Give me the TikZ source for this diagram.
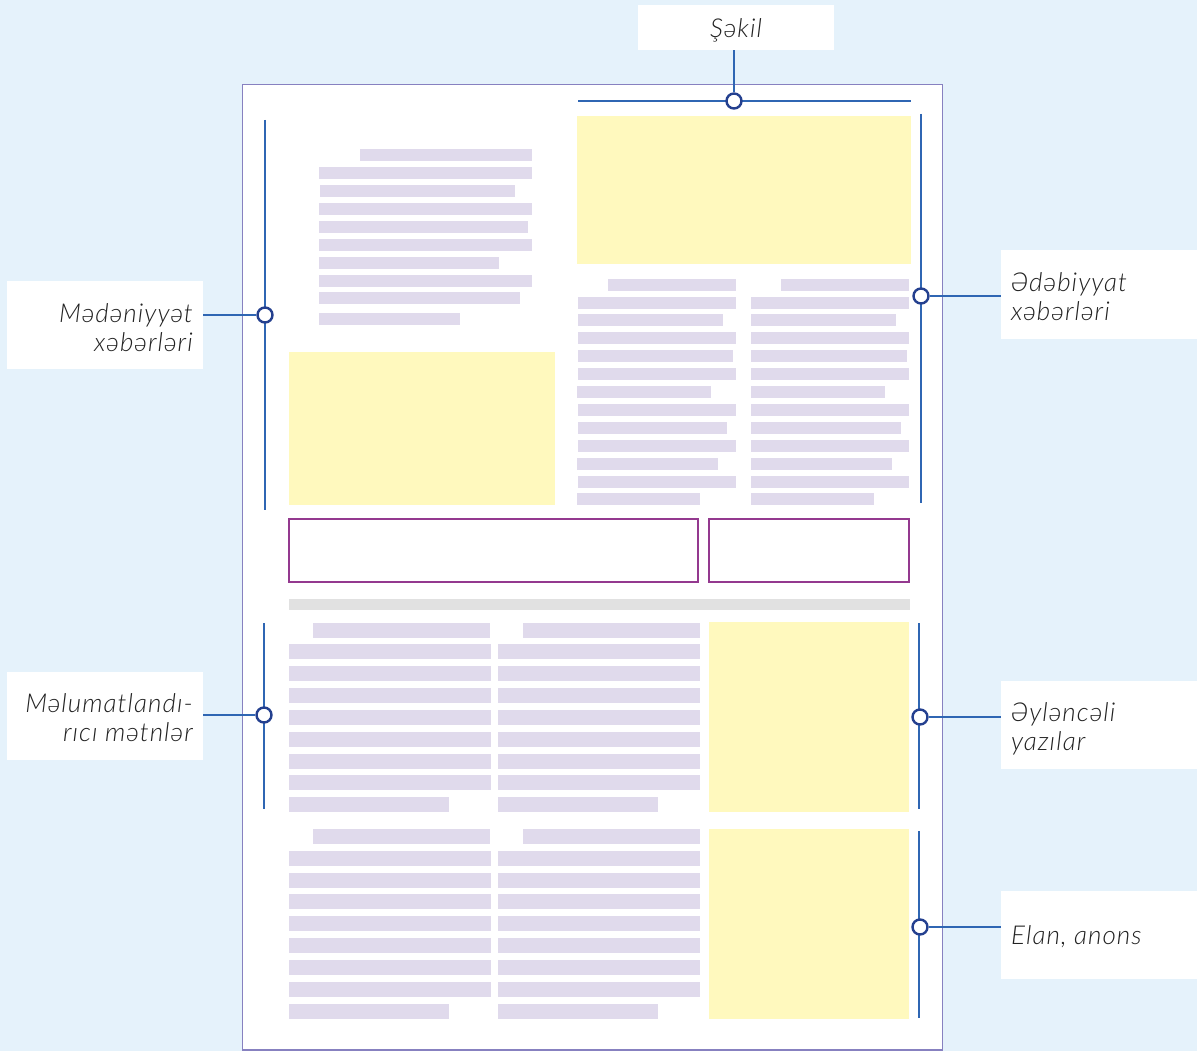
\documentclass[tikz,border=0pt]{standalone}
\usepackage{fontspec}
\setmainfont{Lato}[ItalicFont={Lato Light Italic}]
\definecolor{bgblue}{HTML}{E5F2FB}
\definecolor{pageedge}{HTML}{8781C0}
\definecolor{lav}{HTML}{E0DAEC}
\definecolor{yel}{HTML}{FFF9BE}
\definecolor{boxpurple}{HTML}{94398F}
\definecolor{graybar}{HTML}{E1E1E1}
\definecolor{lineblue}{HTML}{2F66B3}
\definecolor{dotblue}{HTML}{24408F}
\definecolor{txt}{HTML}{222222}
\tikzset{
  lblbox/.style={fill=white, draw=none, minimum width=196pt, minimum height=88pt, inner sep=0pt},
  lbltxt/.style={inner sep=0pt, font=\fontsize{26}{29}\selectfont\itshape\addfontfeatures{LetterSpace=4}, text=txt},
  dot/.style={circle, draw=dotblue, line width=2.4pt, fill=white, minimum size=15pt, inner sep=0pt},
  bracket/.style={draw=lineblue, line width=2pt},
  conn/.style={draw=lineblue, line width=1.6pt},
  txtline/.style={fill=lav},
}
\begin{document}
\begin{tikzpicture}[x=1pt,y=-1pt]
\useasboundingbox (0,0) rectangle (1197,1051);
\fill[bgblue] (0,0) rectangle (1197,1051);
% page
\draw[pageedge, line width=1.6pt, fill=white] (242.5,84.5) rectangle (942.5,1050);
% yellow images
\fill[yel] (577,116) rectangle (911,264);
\fill[yel] (289,352) rectangle (555,505);
\fill[yel] (709,622) rectangle (909,812);
\fill[yel] (709,829) rectangle (909,1019);
% top-left text lines
\foreach \y/\a/\b in {149/360/532,167/319/532,185/320/515,203/319/532,221/319/528,239/319/532,257/319/499,275/319/532,292/319/520,313/319/460}
  \fill[txtline] (\a,\y) rectangle (\b,\y+12);
% right columns
\foreach \y/\a/\b in {279/608/736,297/578/736,314/578/723,332/578/736,350/578/733,368/578/736,386/577/711,404/578/736,422/578/727,440/578/736,458/577/718,476/578/736,493/577/700}
  \fill[txtline] (\a,\y) rectangle (\b,\y+12);
\foreach \y/\a/\b in {279/781/909,297/751/909,314/751/896,332/751/909,350/751/907,368/751/909,386/751/885,404/751/909,422/751/901,440/751/909,458/751/892,476/751/909,493/751/874}
  \fill[txtline] (\a,\y) rectangle (\b,\y+12);
% boxes
\draw[boxpurple, line width=1.8pt] (289,519) rectangle (698,582);
\draw[boxpurple, line width=1.8pt] (709,519) rectangle (909,582);
\fill[graybar] (289,599) rectangle (910,610);
% middle and bottom sections
\foreach \t in {623,829}{
  \fill[txtline] (313,\t) rectangle (490,\t+15);
  \fill[txtline] (523,\t) rectangle (700,\t+15);
}
\foreach \y in {644,666,688,710,732,754,775,851,873,894,916,938,960,982}{
  \fill[txtline] (289,\y) rectangle (491,\y+15);
  \fill[txtline] (498,\y) rectangle (700,\y+15);
}
\foreach \y in {797,1004}{
  \fill[txtline] (289,\y) rectangle (449,\y+15);
  \fill[txtline] (498,\y) rectangle (658,\y+15);
}
% brackets
\draw[bracket] (578,101) -- (911,101);
\draw[bracket] (265,120) -- (265,510);
\draw[bracket] (264,623) -- (264,809);
\draw[bracket] (921,114) -- (921,503);
\draw[bracket] (919,623) -- (919,809);
\draw[bracket] (919,831) -- (919,1018);
% label boxes
\node[lblbox, minimum height=45pt] (sekil) at (736,27.5) {};
\node[lblbox] (maden) at (105,325) {};
\node[lblbox] (edeb) at (1099,294.5) {};
\node[lblbox] (melum) at (105,716) {};
\node[lblbox] (eylen) at (1099,724.5) {};
\node[lblbox] (elan) at (1099,934.5) {};
% label texts (base = last line's baseline)
\node[lbltxt, anchor=base] (sekilt) at (736,38) {Şəkil};
\node[lbltxt, anchor=base east, align=right] (madent) at (193,351) {Mədəniyyət\\xəbərləri};
\node[lbltxt, anchor=base west, align=left] (edebt) at (1011,320) {Ədəbiyyat\\xəbərləri};
\node[lbltxt, anchor=base east, align=right] (melumt) at (193,741) {Məlumatlandı-\\rıcı mətnlər};
\node[lbltxt, anchor=base west, align=left] (eylent) at (1011,750) {Əyləncəli\\yazılar};
\node[lbltxt, anchor=base west] (elant) at (1011,944) {Elan, anons};
% dots
\node[dot] (d1) at (734,101) {};
\node[dot] (d2) at (265,315) {};
\node[dot] (d3) at (921,296) {};
\node[dot] (d4) at (264,715) {};
\node[dot] (d5) at (920,717) {};
\node[dot] (d6) at (920,927) {};
% connectors
\draw[conn] (sekil.south -| d1) -- (d1.north);
\draw[conn] (maden.east |- d2) -- (d2.west);
\draw[conn] (edeb.west |- d3) -- (d3.east);
\draw[conn] (melum.east |- d4) -- (d4.west);
\draw[conn] (eylen.west |- d5) -- (d5.east);
\draw[conn] (elan.west |- d6) -- (d6.east);
\end{tikzpicture}
\end{document}
